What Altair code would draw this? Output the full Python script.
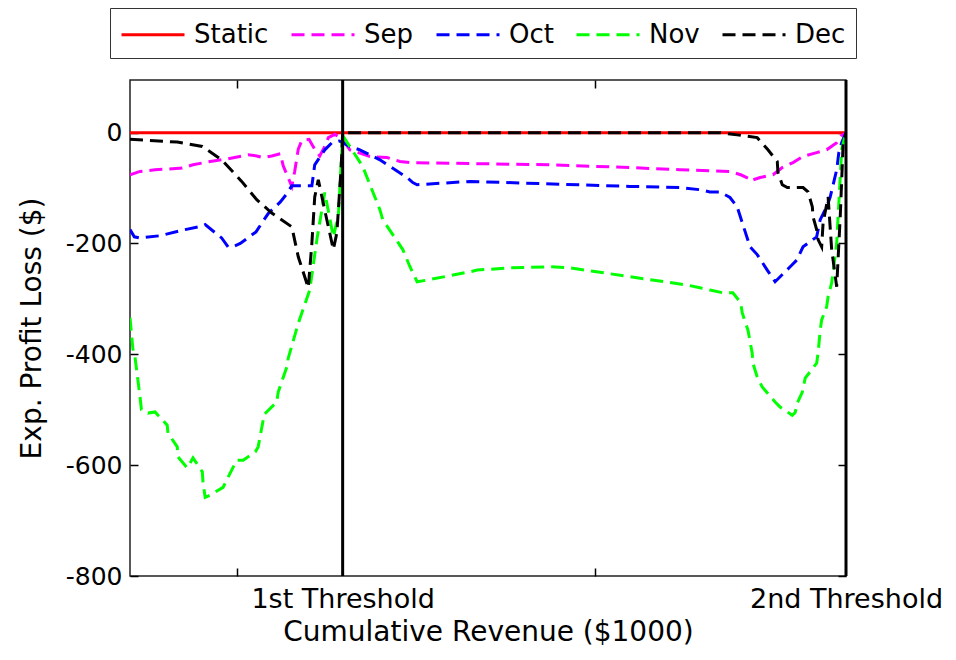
import altair as alt
import pandas as pd

# ---------------- data ----------------
series_names = ["Static", "Sep", "Oct", "Nov", "Dec"]
series_colors = ["#ff0000", "#ff00ff", "#0000ff", "#00ff00", "#000000"]
series_dash = [[1, 0], [13, 7], [13, 7], [13, 7], [13, 7]]

static_x = [0, 100]
static_y = [0, 0]

sep_x = [0, 1.4, 3.5, 7.3, 8.8, 11.2, 13.7, 16.5, 17.7, 18.6, 19.8, 21.0, 21.4, 22.6, 23.0,
         23.5, 24.0, 25.0, 25.8, 26.5, 27.2, 27.7, 28.6, 29.7,
         30.7, 33.5, 35.9, 37.7, 39.1, 48.5, 58.7, 69.8, 76.8, 83.8, 85.3, 86.3, 86.6,
         88.0, 89.8, 91.1, 92.6, 94.0, 95.9, 97.3, 98.7, 99.4, 100]
sep_y = [-76, -70, -67, -64, -58, -52, -47, -40, -42, -45, -42, -38, -60, -97, -70,
         -30, -14, -12, -30, -42, -25, -9, -3, -12,
         -31, -43, -45, -52, -54, -56, -58, -63, -67, -70, -76, -82, -87,
         -81, -76, -63, -54, -43, -36, -31, -18, -5, 0]

oct_x = [0, 0.6, 1.4, 4.2, 7.7, 10.2, 10.5, 12.8, 13.7, 14.5, 15.4, 17.6, 19.3, 21.0, 21.8,
         22.6, 25.4, 25.8, 27.2, 28.2, 29.2, 29.7,
         30.7, 32.1, 34.9, 36.3, 38.7, 39.5, 40.1, 47.5, 69.8, 76.8, 79.6, 81.0, 82.4, 83.8,
         84.8, 86.6, 87.6, 89.0, 90.1, 90.8, 92.2, 93.2, 93.6, 94.0, 95.9, 96.4, 97.3, 97.8,
         98.7, 99.0, 99.4, 100]
oct_y = [-175, -188, -190, -186, -175, -168, -166, -190, -206, -205, -200, -179, -146, -125, -112,
         -96, -96, -58, -31, -18, -15, -18,
         -25, -31, -49, -61, -81, -90, -94, -88, -97, -99, -103, -107, -107, -117,
         -134, -206, -220, -248, -269, -260, -242, -229, -217, -206, -188, -157, -134, -116,
         -67, -36, -18, 0]

nov_x = [0, 0.4, 0.7, 1.4, 1.6, 2.5, 3.5, 5.2, 5.3, 6.6, 6.7, 8.0, 8.8, 10.1, 10.2, 10.5,
         11.2, 13.0, 13.5, 14.9, 15.8, 17.5, 17.9, 18.6, 18.7, 20.5, 20.7, 21.9, 22.1, 23.5,
         25.1, 26.1, 27.2, 28.4, 29.1, 29.6, 29.7,
         32.5, 34.9, 35.3, 38.1, 39.1, 40.1, 41.5, 47.5, 48.5, 53.1, 58.7, 61.5, 69.8, 77.8,
         79.6, 81.0, 82.8, 84.2, 85.3, 85.5, 86.3, 86.9, 87.0, 87.6, 88.3, 90.1, 90.8, 92.5,
         92.9, 93.2, 93.9, 94.3, 95.9, 96.1, 96.4, 96.6, 97.3, 97.5, 98.0, 98.7, 99.4, 100]
nov_y = [-334, -390, -405, -477, -500, -506, -504, -528, -542, -567, -585, -605, -587, -612, -632, -658,
         -654, -640, -627, -591, -591, -576, -567, -519, -509, -486, -468, -423, -407, -344,
         -284, -193, -108, -188, -150, -30, -5,
         -61, -139, -157, -211, -242, -269, -266, -251, -248, -244, -242, -244, -260, -275,
         -280, -284, -289, -289, -307, -325, -356, -398, -416, -441, -459, -486, -495, -510,
         -505, -488, -468, -443, -416, -398, -356, -338, -314, -296, -271, -200, -30, 0]

dec_x = [0, 6.6, 10.1, 12.8, 15.6, 17.7, 19.8, 22.6, 23.5, 24.9, 25.4, 25.8, 26.3, 27.2, 28.4,
         28.9, 29.5, 29.7,
         82.4, 84.8, 87.6, 89.1, 90.4, 90.5, 91.1, 91.8, 94.0, 94.7, 95.3, 95.4, 95.9, 96.1,
         96.6, 96.8, 97.5, 98.0, 98.7, 99.2, 99.6, 100]
dec_y = [-12, -17, -25, -49, -88, -121, -145, -170, -224, -280, -200, -116, -85, -140, -211,
         -180, -60, 0,
         0, -4, -9, -31, -52, -72, -94, -99, -99, -107, -134, -152, -175, -193,
         -206, -163, -116, -211, -278, -150, -20, 0]

threshold_x = [29.7, 100]
x_tick_values = [15, 65]
x_label_values = [29.7, 100]
y_tick_values = [-800, -600, -400, -200, 0]

# ---------------- table ----------------
rows = []
for name, xs, ys in [("Static", static_x, static_y), ("Sep", sep_x, sep_y),
                     ("Oct", oct_x, oct_y), ("Nov", nov_x, nov_y), ("Dec", dec_x, dec_y)]:
    for xv, yv in zip(xs, ys):
        rows.append({"series": name, "rev": xv, "loss": yv})
df = pd.DataFrame(rows)
thr_df = pd.DataFrame({"rev": threshold_x})
anchor_df = pd.DataFrame({"rev": static_x, "loss": static_y})

W, H = 716, 496
FONT = "DejaVu Sans"
xscale = alt.Scale(domain=[0, 100], nice=False, zero=False)
yscale = alt.Scale(domain=[-800, 95], nice=False, zero=False)

lines = alt.Chart(df).mark_line(strokeWidth=3, clip=True).encode(
    x=alt.X("rev:Q", scale=xscale, axis=alt.Axis(
        orient="bottom", values=x_label_values,
        labelExpr="datum.value < 50 ? '1st Threshold' : '2nd Threshold'",
        ticks=False, domain=False, grid=False, labelFlush=False, labelOverlap=False,
        labelLimit=400, labelBound=False,
        labelFontSize=27, labelPadding=10, labelColor="black", labelFont=FONT,
        title="Cumulative Revenue ($1000)", titleFontSize=28, titleFont=FONT,
        titleFontWeight="normal", titleColor="black", titlePadding=6)),
    y=alt.Y("loss:Q", scale=yscale, axis=alt.Axis(
        orient="left", values=y_tick_values, ticks=False, domain=False, grid=False,
        labelExpr="'' + datum.value",
        labelFontSize=25, labelPadding=8, labelColor="black", labelFont=FONT,
        title="Exp. Profit Loss ($)", titleFontSize=28, titleFont=FONT,
        titleFontWeight="normal", titleColor="black", titlePadding=19)),
    color=alt.Color("series:N", sort=series_names,
                    scale=alt.Scale(domain=series_names, range=series_colors),
                    legend=alt.Legend(title=None)),
    strokeDash=alt.StrokeDash("series:N", sort=series_names,
                              scale=alt.Scale(domain=series_names, range=series_dash),
                              legend=alt.Legend(title=None)),
)

rules = alt.Chart(thr_df).mark_rule(color="black", strokeWidth=3).encode(
    x=alt.X("rev:Q", scale=xscale, axis=alt.Axis(
        orient="top", offset=-H, values=x_tick_values, labels=False, domain=False,
        grid=False, tickSize=8, tickWidth=1.5, tickColor="black", title=None)),
)

ticks_a = alt.Chart(anchor_df).mark_point(opacity=0).encode(
    x=alt.X("rev:Q", scale=xscale, axis=alt.Axis(
        orient="bottom", offset=-H, values=x_tick_values, labels=False, domain=False,
        grid=False, tickSize=8, tickWidth=1.5, tickColor="black", title=None)),
    y=alt.Y("loss:Q", scale=yscale, axis=alt.Axis(
        orient="right", offset=-W, values=y_tick_values, labels=False, domain=False,
        grid=False, tickSize=8, tickWidth=1.5, tickColor="black", title=None)),
)

ticks_b = alt.Chart(anchor_df).mark_point(opacity=0).encode(
    x=alt.X("rev:Q", scale=xscale, axis=None),
    y=alt.Y("loss:Q", scale=yscale, axis=alt.Axis(
        orient="left", offset=-W, values=y_tick_values, labels=False, domain=False,
        grid=False, tickSize=8, tickWidth=1.5, tickColor="black", title=None)),
)

chart = alt.layer(lines, rules, ticks_a, ticks_b).resolve_axis(
    x="independent", y="independent"
).properties(
    width=W, height=H,
    autosize=alt.AutoSizeParams(type="none"),
    padding={"left": 130, "top": 80, "right": 110, "bottom": 84},
    background="white",
).configure_view(
    stroke="#222222", strokeWidth=1.5
).configure_legend(
    orient="none", legendX=-20, legendY=-72, direction="horizontal", columns=5,
    strokeColor="#333333", fillColor="white", padding=10,
    symbolType="M-1,0H3.2", symbolSize=900, symbolStrokeWidth=3,
    labelFontSize=26, labelFont=FONT, labelColor="black", labelOffset=41,
    columnPadding=16, labelLimit=200,
)

chart.save("out.html", embed_options={"renderer": "svg", "actions": False})
